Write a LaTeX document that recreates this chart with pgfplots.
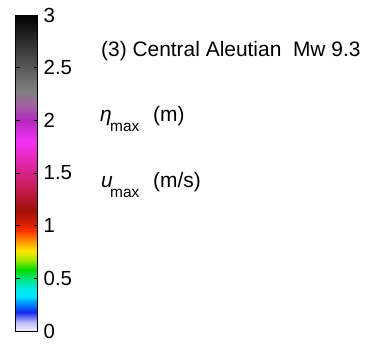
\documentclass[border=0pt]{standalone}
\usepackage{pgfplots}
\pgfplotsset{compat=1.18}
\usepackage{fontspec}
\setmainfont{Liberation Sans}
\begin{document}
\begin{tikzpicture}[x=1bp,y=1bp]
\path[use as bounding box] (0,0) rectangle (370,344);
\begin{axis}[
  hide axis, scale only axis, width=22bp, height=316bp,
  at={(15bp,13bp)}, anchor=south west,
  xmin=0, xmax=1, ymin=0, ymax=3,
  point meta min=0, point meta max=3,
  colormap={tsu}{
    rgb255(0pt)=(242,242,255);
    rgb255(8pt)=(190,190,250);
    rgb255(18pt)=(20,40,240);
    rgb255(26pt)=(0,140,255);
    rgb255(33pt)=(0,230,255);
    rgb255(40pt)=(0,235,230);
    rgb255(50pt)=(0,225,120);
    rgb255(58pt)=(0,220,0);
    rgb255(68pt)=(170,230,0);
    rgb255(76pt)=(255,230,0);
    rgb255(85pt)=(255,150,0);
    rgb255(95pt)=(255,50,0);
    rgb255(105pt)=(200,25,5);
    rgb255(115pt)=(160,15,10);
    rgb255(140pt)=(205,30,100);
    rgb255(165pt)=(230,40,190);
    rgb255(180pt)=(245,50,245);
    rgb255(200pt)=(180,40,190);
    rgb255(215pt)=(160,100,160);
    rgb255(228pt)=(128,128,128);
    rgb255(300pt)=(0,0,0)},
  colorbar,
  colorbar/width=22bp,
  colorbar style={
    at={(parent axis.south west)}, anchor=south west,
    xshift=-8bp, yshift=0pt,
    width=22bp, height=316bp,
    ytick={0,0.5,1,1.5,2,2.5,3},
    yticklabels={0,0.5,1,1.5,2,2.5,3},
    yticklabel pos=right,
    ytick pos=both,
    tick align=inside,
    major tick length=4bp,
    tick style={black, line width=0.6pt},
    axis line style={black, line width=0.8pt},
    /pgf/number format/assume math mode=true,
    yticklabel style={font=\fontsize{20.5}{24}\selectfont, inner sep=0pt, xshift=6bp},
  },
]
\addplot[draw=none] coordinates {(0,0) (1,3)};
\end{axis}
\begin{scope}[every node/.style={anchor=base west, inner sep=0pt, font=\fontsize{21}{25}\selectfont}]
\node at (101,288) {(3) Central Aleutian\ \ Mw 9.3};
\node at (100,223) {\textit{η}};
\node[font=\fontsize{15.5}{18}\selectfont] at (110,213) {max};
\node at (153,223) {(m)};
\node at (101,157) {\textit{u}};
\node[font=\fontsize{15.5}{18}\selectfont] at (110,147) {max};
\node at (153,157) {(m/s)};
\end{scope}
\end{tikzpicture}
\end{document}
